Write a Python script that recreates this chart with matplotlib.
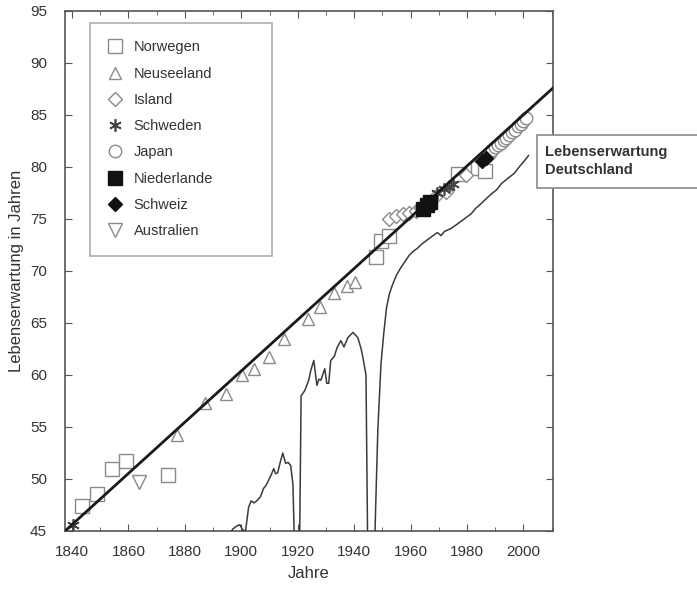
import matplotlib
matplotlib.use("Agg")
import matplotlib.pyplot as plt
from matplotlib.ticker import MultipleLocator
from matplotlib.patches import Rectangle

plt.rcParams["font.family"] = ["Liberation Sans", "DejaVu Sans"]

# best-practice trend line (Rekord-Lebenserwartung)
trend_years = [1837.5, 2010.5]
trend_le = [45.0, 87.6]

# Lebenserwartung Deutschland
de_years = [1895.5, 1897.0, 1898.5, 1899.5, 1900.5, 1901.5, 1902.6, 1903.5, 1904.5, 1905.5,
            1906.8, 1907.9, 1908.8, 1909.7, 1910.6, 1911.5, 1912.2, 1912.9, 1913.8, 1914.7,
            1915.7, 1916.6, 1917.5, 1918.3, 1919.0, 1919.8, 1920.6, 1921.2, 1922.5, 1923.9,
            1924.6, 1925.7, 1926.8, 1927.5, 1928.2, 1929.6, 1930.3, 1931.0, 1931.7, 1933.0,
            1933.9, 1935.3, 1936.4, 1937.8, 1939.6, 1941.3, 1942.5, 1943.1, 1944.2, 1945.0,
            1946.8, 1947.6, 1948.4, 1949.5, 1950.5, 1951.5, 1952.5, 1953.5, 1955.0, 1956.5,
            1958.0, 1959.5, 1961.0, 1962.5, 1964.0, 1965.5, 1967.0, 1968.5, 1969.5, 1970.8,
            1972.0, 1974.4, 1976.0, 1978.0, 1980.0, 1981.5, 1983.0, 1985.1, 1987.0, 1988.6,
            1990.5, 1992.2, 1994.0, 1996.8, 1998.5, 2000.4, 2001.8]
de_le = [44.5, 45.2, 45.5, 45.6, 45.1, 45.0, 47.3, 47.9, 47.7, 47.9,
         48.3, 49.1, 49.4, 49.9, 50.4, 51.0, 50.5, 50.6, 51.6, 52.5,
         51.5, 51.6, 51.3, 49.5, 42.0, 38.0, 42.0, 58.0, 58.5, 59.5,
         60.4, 61.4, 59.0, 59.6, 59.5, 60.6, 59.2, 59.2, 61.4, 61.8,
         62.6, 63.3, 62.7, 63.6, 64.1, 63.6, 62.5, 61.7, 60.0, 38.0,
         38.0, 47.0, 54.7, 61.0, 64.0, 66.5, 67.8, 68.6, 69.6, 70.3,
         70.9, 71.5, 71.9, 72.2, 72.6, 72.9, 73.2, 73.5, 73.7, 73.4,
         73.8, 74.1, 74.4, 74.8, 75.2, 75.5, 76.0, 76.5, 77.0, 77.4,
         77.8, 78.4, 78.8, 79.4, 80.0, 80.6, 81.1]

# Rekordhalter
norwegen_years = [1843.6, 1848.9, 1854.2, 1859.2, 1874.1, 1947.7, 1949.5, 1952.4, 1976.9, 1984.0, 1986.5]
norwegen_le = [47.4, 48.6, 51.0, 51.7, 50.4, 71.3, 72.9, 73.4, 79.3, 79.9, 79.6]

neuseeland_years = [1877.3, 1887.3, 1894.4, 1900.4, 1904.4, 1909.7, 1915.0, 1923.6, 1927.8, 1932.8, 1937.4, 1940.3]
neuseeland_le = [54.2, 57.3, 58.2, 60.0, 60.6, 61.7, 63.5, 65.4, 66.5, 67.9, 68.6, 68.9]

island_years = [1952.4, 1954.8, 1957.3, 1959.5, 1962.0, 1963.7, 1969.5, 1972.5, 1979.5]
island_le = [75.0, 75.3, 75.5, 75.6, 75.8, 76.1, 77.3, 77.6, 79.2]

schweden_years = [1840.3, 1969.4, 1971.9, 1973.7, 1975.1]
schweden_le = [45.6, 77.5, 77.9, 78.1, 78.4]

japan_years = [1987, 1988, 1989, 1990, 1991, 1992, 1993, 1994, 1995, 1996, 1997, 1998, 1999, 2000, 2001]
japan_le = [81.1, 81.3, 81.6, 81.9, 82.1, 82.3, 82.6, 82.8, 83.1, 83.4, 83.6, 83.9, 84.1, 84.4, 84.7]

niederlande_years = [1964.5, 1965.8, 1967.0]
niederlande_le = [76.0, 76.3, 76.6]

schweiz_years = [1985.3, 1986.8]
schweiz_le = [80.6, 80.9]

australien_years = [1863.8]
australien_le = [49.7]

grey = "#8a8a8a"
text_col = "#333333"

fig = plt.figure(figsize=(6.97, 6.01), dpi=100)
ax = fig.add_axes([65 / 697, 70 / 601, 488 / 697, 520 / 601])

ax.plot(trend_years, trend_le, color="#1a1a1a", lw=2.0, zorder=4)
ax.plot(de_years, de_le, color="#3a3a3a", lw=1.1, zorder=3)

mk = dict(linestyle="none", markerfacecolor="white", markeredgecolor=grey, markeredgewidth=1.0, zorder=2)
ax.plot(norwegen_years, norwegen_le, marker="s", markersize=10, label="Norwegen", **mk)
ax.plot(neuseeland_years, neuseeland_le, marker="^", markersize=9, label="Neuseeland", **mk)
ax.plot(island_years, island_le, marker="D", markersize=7, label="Island", **mk)
ax.plot(schweden_years, schweden_le, marker=(6, 2, 0), markersize=9, linestyle="none",
        color="#444444", markeredgewidth=1.2, label="Schweden", zorder=2)
ax.plot(japan_years, japan_le, marker="o", markersize=9, label="Japan", **mk)
ax.plot(niederlande_years, niederlande_le, marker="s", markersize=10, linestyle="none",
        color="#111111", label="Niederlande", zorder=5)
ax.plot(schweiz_years, schweiz_le, marker="D", markersize=7, linestyle="none",
        color="#111111", label="Schweiz", zorder=5)
ax.plot(australien_years, australien_le, marker="v", markersize=10, label="Australien", **mk)

ax.set_xlim(1837.5, 2010.5)
ax.set_ylim(45, 95)
ax.xaxis.set_major_locator(MultipleLocator(20))
ax.xaxis.set_minor_locator(MultipleLocator(10))
ax.yaxis.set_major_locator(MultipleLocator(5))
ax.tick_params(which="both", direction="in", top=True, right=True, colors="#555555",
               labelcolor=text_col, labelsize=11)
ax.tick_params(which="major", length=5)
ax.tick_params(which="minor", length=3)
ax.tick_params(axis="x", which="major", pad=10)
ax.tick_params(axis="y", which="major", pad=13)
for s in ax.spines.values():
    s.set_color("#555555")
    s.set_linewidth(1.2)

ax.set_xlabel("Jahre", fontsize=12, color=text_col, labelpad=5)
ax.set_ylabel("Lebenserwartung in Jahren", fontsize=12, color=text_col, labelpad=4)

leg = ax.legend(loc="upper left", bbox_to_anchor=(0.051, 0.54, 0.373, 0.437), mode="expand",
                frameon=True, fancybox=False, edgecolor="#9a9a9a", fontsize=10.5,
                borderpad=1.2, labelspacing=0.84, handlelength=1.0, handletextpad=0.8,
                borderaxespad=0)
leg.get_frame().set_linewidth(1.2)
for t in leg.get_texts():
    t.set_color(text_col)

# Beschriftungskasten rechts
fig.patches.append(Rectangle((537 / 697, (601 - 188) / 601), 170 / 697, 53 / 601,
                             transform=fig.transFigure, facecolor="white",
                             edgecolor="#8a8a8a", lw=1.2, zorder=10))
fig.text(545 / 697, (601 - 161) / 601, "Lebenserwartung\nDeutschland", fontsize=10.5,
         fontweight="bold", color=text_col, va="center", ha="left", linespacing=1.4, zorder=11)

fig.savefig("out.png", dpi=100)
